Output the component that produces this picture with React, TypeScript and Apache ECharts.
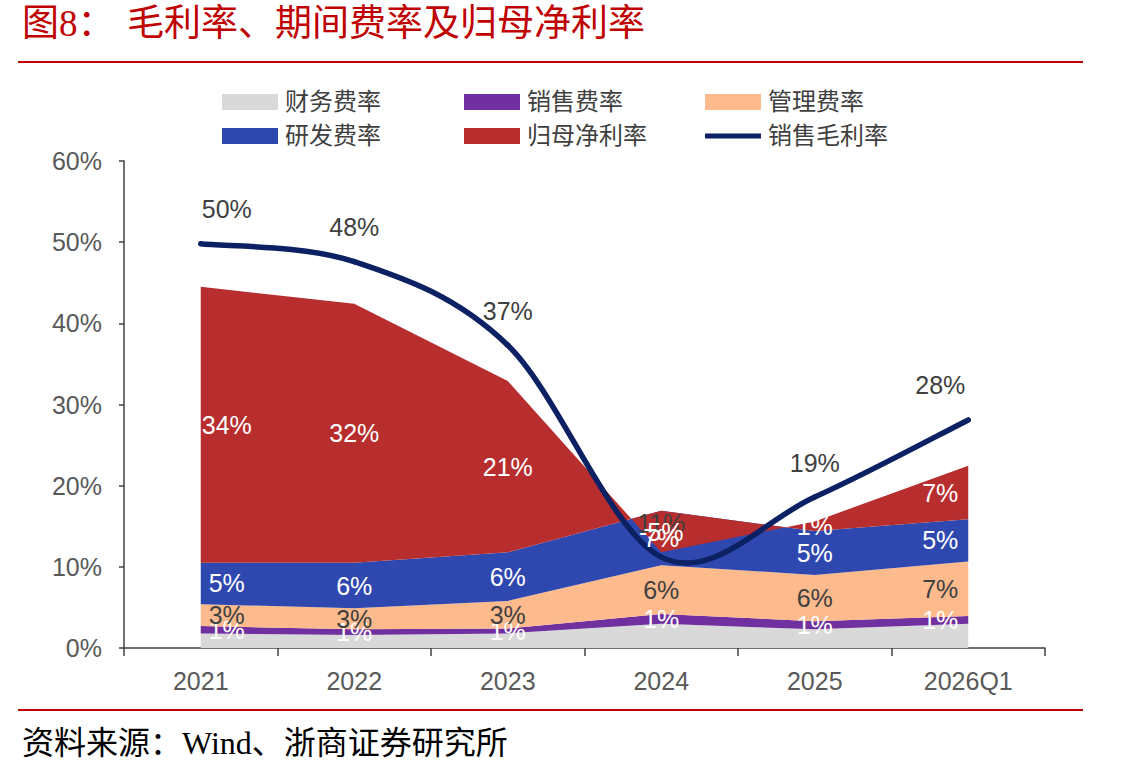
import React, { useEffect, useRef } from "react";
import * as echarts from "echarts";

const categories = ["2021", "2022", "2023", "2024", "2025", "2026Q1"];
const financeRate = [1.8, 1.6, 1.8, 3.0, 2.3, 3.0];
const salesRate = [0.9, 0.7, 0.6, 1.2, 1.0, 0.95];
const adminRate = [2.7, 2.6, 3.4, 6.0, 5.7, 6.7];
const rdRate = [5.1, 5.6, 6.0, 6.7, 5.4, 5.2];
const netMargin = [34.0, 31.9, 21.1, -5.1, 1.2, 6.6];
const grossMargin = [49.8, 47.6, 37.3, 11.2, 18.6, 28.1];
const yTicks = [0, 10, 20, 30, 40, 50, 60];

const titleMain = "毛利率、期间费率及归母净利率";
const titlePrefix = "图8：";
const sourceText = "资料来源：Wind、浙商证券研究所";

type StackDef = { name: string; data: number[]; color: string; labelColor: string | null };

const stacks: StackDef[] = [
  { name: "财务费率", data: financeRate, color: "#D9D9D9", labelColor: null },
  { name: "销售费率", data: salesRate, color: "#7030A0", labelColor: "#FFFFFF" },
  { name: "管理费率", data: adminRate, color: "#FDBA8C", labelColor: "#404040" },
  { name: "研发费率", data: rdRate, color: "#2F48AF", labelColor: "#FFFFFF" },
  { name: "归母净利率", data: netMargin, color: "#B82E2E", labelColor: "#FFFFFF" },
];
const lineName = "销售毛利率";
const lineColor = "#0B2163";

const numFont = "'Liberation Sans', Arial, sans-serif";
const cjkFont = "'Liberation Serif', 'Noto Sans CJK SC', serif";

// Excel nudges the labels of the first and last points inward
const edgeOffset = (i: number, n: number): [number, number] =>
  i === 0 ? [26, 0] : i === n - 1 ? [-28, 0] : [0, 0];

export default function App() {
  const ref = useRef<HTMLDivElement>(null);
  useEffect(() => {
    if (!ref.current) return;
    const chart = echarts.init(ref.current, null, { renderer: "svg" });
    const n = categories.length;

    const series: any[] = [];
    stacks.forEach((s) => {
      series.push({
        name: s.name,
        type: "line",
        stack: "total",
        stackStrategy: "all",
        data: s.data,
        symbol: "none",
        lineStyle: { width: 0 },
        itemStyle: { color: s.color },
        areaStyle: { color: s.color, opacity: 1 },
        z: 2,
      });
    });
    // centered labels for stacked bands
    stacks.forEach((s, si) => {
      if (!s.labelColor) return;
      const pts = s.data.map((v, i) => {
        let before = 0;
        for (let k = 0; k < si; k++) before += stacks[k].data[i];
        return { value: [i, before + v / 2, v], label: { offset: edgeOffset(i, n) } };
      });
      series.push({
        name: s.name + "_label",
        type: "scatter",
        data: pts,
        symbolSize: 0,
        silent: true,
        clip: false,
        z: 7,
        itemStyle: { opacity: 1 },
        label: {
          show: true,
          position: "inside",
          color: s.labelColor,
          opacity: 1,
          fontSize: 25,
          fontFamily: numFont,
          formatter: (p: any) => Math.round(p.value[2]) + "%",
        },
      });
    });
    // Excel-style smoothed line (Catmull-Rom Bezier), drawn through the axes' scales
    series.push({
      name: lineName + "_curve",
      type: "custom",
      data: grossMargin.map((g, i) => [i, g]),
      encode: { x: 0, y: 1 },
      silent: true,
      z: 5,
      renderItem: (params: any, api: any) => {
        const i = params.dataIndex;
        if (i >= grossMargin.length - 1) return null;
        const P = grossMargin.map((g, k) => api.coord([k, g]));
        const p0 = P[Math.max(0, i - 1)];
        const p1 = P[i];
        const p2 = P[i + 1];
        const p3 = P[Math.min(P.length - 1, i + 2)];
        return {
          type: "bezierCurve",
          shape: {
            x1: p1[0],
            y1: p1[1],
            cpx1: p1[0] + (p2[0] - p0[0]) / 6,
            cpy1: p1[1] + (p2[1] - p0[1]) / 6,
            cpx2: p2[0] - (p3[0] - p1[0]) / 6,
            cpy2: p2[1] - (p3[1] - p1[1]) / 6,
            x2: p2[0],
            y2: p2[1],
          },
          style: { stroke: lineColor, lineWidth: 5.5, fill: "none", lineCap: "round" },
        };
      },
    });
    // gross margin labels + legend entry
    series.push({
      name: lineName,
      type: "scatter",
      data: grossMargin.map((g, i) => ({ value: [i, g], label: { offset: edgeOffset(i, n) } })),
      symbolSize: 0,
      silent: true,
      clip: false,
      itemStyle: { color: lineColor, opacity: 1 },
      z: 6,
      label: {
        show: true,
        position: "top",
        distance: 22,
        color: "#404040",
        opacity: 1,
        fontSize: 25,
        fontFamily: numFont,
        formatter: (p: any) => Math.round(p.value[1]) + "%",
      },
    });

    const legendPos = [
      { name: "财务费率", left: 222, top: 90, h: 16 },
      { name: "销售费率", left: 464, top: 90, h: 16 },
      { name: "管理费率", left: 705, top: 90, h: 16 },
      { name: "研发费率", left: 222, top: 124, h: 16 },
      { name: "归母净利率", left: 464, top: 124, h: 16 },
      { name: lineName, left: 705, top: 124, h: 5 },
    ];

    chart.setOption({
      animation: false,
      backgroundColor: "#FFFFFF",
      grid: { left: 124, right: 95, top: 161, bottom: 130, containLabel: false },
      legend: legendPos.map((l) => ({
        data: [{ name: l.name, icon: "rect", itemStyle: { opacity: 1 } }],
        left: l.left,
        top: l.top,
        padding: 0,
        itemWidth: 56,
        itemHeight: l.h,
        selectedMode: false,
        textStyle: { fontSize: 24, color: "#404040", fontFamily: cjkFont, padding: [0, 0, 0, 2] },
      })),
      xAxis: {
        type: "category",
        data: categories,
        boundaryGap: true,
        axisLine: { show: true, lineStyle: { color: "#404040", width: 1.5 } },
        axisTick: { show: true, length: 8, lineStyle: { color: "#404040", width: 1.5 } },
        axisLabel: { fontSize: 25, color: "#595959", fontFamily: numFont, margin: 20 },
        splitLine: { show: false },
      },
      yAxis: {
        type: "value",
        min: yTicks[0],
        max: yTicks[yTicks.length - 1],
        interval: 10,
        axisLine: { show: true, lineStyle: { color: "#404040", width: 1.5 } },
        axisTick: { show: true, length: 5, lineStyle: { color: "#404040", width: 1.5 } },
        axisLabel: { fontSize: 25, color: "#595959", fontFamily: numFont, margin: 22, formatter: "{value}%" },
        splitLine: { show: false },
      },
      graphic: [
        {
          type: "text",
          left: 22,
          top: 5,
          style: { text: titlePrefix, fill: "#C00000", font: `37px ${cjkFont}` },
        },
        {
          type: "text",
          left: 127,
          top: 5,
          style: { text: titleMain, fill: "#C00000", font: `37px ${cjkFont}` },
        },
        {
          type: "line",
          shape: { x1: 18, y1: 62, x2: 1083, y2: 62 },
          style: { stroke: "#C00000", lineWidth: 2 },
        },
        {
          type: "line",
          shape: { x1: 18, y1: 710, x2: 1083, y2: 710 },
          style: { stroke: "#C00000", lineWidth: 2 },
        },
        {
          type: "text",
          left: 22,
          top: 727,
          style: { text: sourceText, fill: "#000000", font: `32px ${cjkFont}` },
        },
      ],
      series,
    });
    return () => chart.dispose();
  }, []);
  return (
    <div
      ref={ref}
      style={{ position: "fixed", left: 0, top: 0, width: 1140, height: 778, background: "#fff" }}
    />
  );
}
